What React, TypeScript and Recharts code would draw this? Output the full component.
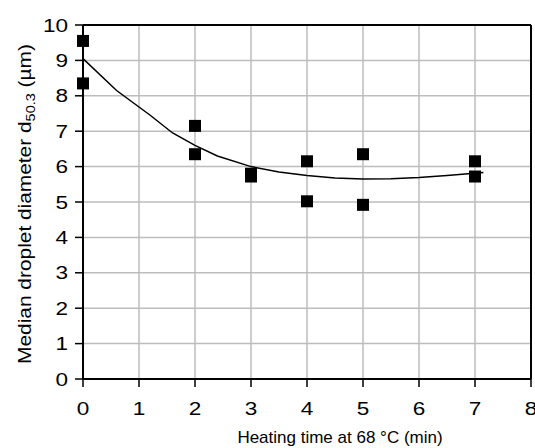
import React from 'react';
import { ComposedChart, Scatter, Line, XAxis, YAxis, CartesianGrid, ReferenceLine } from 'recharts';

const measuredTime = [0, 0, 2, 2, 3, 3, 4, 4, 5, 5, 7, 7];
const measuredDiameter = [9.55, 8.35, 7.15, 6.35, 5.8, 5.72, 6.15, 5.02, 6.35, 4.92, 6.15, 5.72];
const fitTime = [0, 0.6, 1.2, 1.6, 2.0, 2.4, 3.0, 3.5, 4.0, 4.5, 5.0, 5.5, 6.0, 6.5, 7.15];
const fitDiameter = [9.05, 8.15, 7.45, 6.95, 6.6, 6.3, 6.0, 5.85, 5.75, 5.68, 5.65, 5.66, 5.69, 5.75, 5.83];
const xTicks = [0, 1, 2, 3, 4, 5, 6, 7, 8];
const yTicks = [0, 1, 2, 3, 4, 5, 6, 7, 8, 9, 10];

const measured = measuredTime.map((t, i) => ({ t, d: measuredDiameter[i] }));
const fit = fitTime.map((t, i) => ({ t, d: fitDiameter[i] }));

const FONT = '"Liberation Sans", Arial, Helvetica, sans-serif';
const TICK_FS = 18.5;
const STRETCH = 1.22;

const Square = (props: any) => {
  const { cx, cy } = props;
  if (cx == null || cy == null) return null;
  return <rect x={cx - 6} y={cy - 6} width={12} height={12} fill="#000" />;
};

const XTick = (props: any) => {
  const { x, y, payload } = props;
  return (
    <text
      transform={`translate(${x} ${y + 16}) scale(${STRETCH} 1)`}
      x={0}
      y={0}
      textAnchor="middle"
      fontFamily={FONT}
      fontSize={TICK_FS}
      fill="#000"
    >
      {payload.value}
    </text>
  );
};

const YTick = (props: any) => {
  const { x, y, payload } = props;
  return (
    <text
      transform={`translate(${x} ${y + 6.6}) scale(${STRETCH} 1)`}
      x={0}
      y={0}
      textAnchor="end"
      fontFamily={FONT}
      fontSize={TICK_FS}
      fill="#000"
    >
      {payload.value}
    </text>
  );
};

const YLabel = (props: any) => {
  const vb = props.viewBox || {};
  const x = 25;
  const y = vb.y + vb.height / 2 + 2;
  return (
    <text
      x={0}
      y={0}
      transform={`translate(${x} ${y}) rotate(-90) scale(1.16 1)`}
      textAnchor="middle"
      dominantBaseline="central"
      fontFamily={FONT}
      fontSize={18}
      fill="#000"
    >
      <tspan>Median droplet diameter d</tspan>
      <tspan fontSize={12.5} dy={5}>50.3</tspan>
      <tspan dy={-5}> (µm)</tspan>
    </text>
  );
};

const XLabel = (props: any) => {
  const vb = props.viewBox || {};
  const x = vb.x + vb.width / 2 + 33;
  const y = vb.y + vb.height - 5;
  return (
    <text x={x} y={y} textAnchor="middle" fontFamily={FONT} fontSize={17} fill="#000">
      Heating time at 68 °C (min)
    </text>
  );
};

export default function App() {
  return (
    <div style={{ position: 'absolute', left: 0, top: 0, background: '#fff' }}>
      <ComposedChart
        width={535}
        height={448}
        margin={{ top: 25, right: 4, bottom: 0, left: 0 }}
        style={{ fontFamily: FONT }}
      >
        <CartesianGrid stroke="#bdbdbd" strokeWidth={1.5} />
        <XAxis
          type="number"
          dataKey="t"
          domain={[0, 8]}
          ticks={xTicks}
          interval={0}
          height={69}
          axisLine={{ stroke: '#000', strokeWidth: 2 }}
          tickLine={{ stroke: '#000', strokeWidth: 1.5 }}
          tickSize={8}
          tickMargin={12}
          tick={<XTick />}
          label={{ content: (p: any) => <XLabel {...p} /> }}
        />
        <YAxis
          type="number"
          dataKey="d"
          domain={[0, 10]}
          ticks={yTicks}
          interval={0}
          width={83}
          axisLine={{ stroke: '#000', strokeWidth: 2 }}
          tickLine={{ stroke: '#000', strokeWidth: 1.5 }}
          tickSize={8}
          tickMargin={7}
          tick={<YTick />}
          label={{ content: (p: any) => <YLabel {...p} /> }}
        />
        <ReferenceLine y={10} stroke="#000" strokeWidth={2} />
        <ReferenceLine x={8} stroke="#000" strokeWidth={2} />
        <Line
          data={fit}
          dataKey="d"
          type="linear"
          stroke="#000"
          strokeWidth={1.5}
          dot={false}
          activeDot={false}
          isAnimationActive={false}
        />
        <Scatter data={measured} dataKey="d" shape={<Square />} isAnimationActive={false} />
      </ComposedChart>
    </div>
  );
}
